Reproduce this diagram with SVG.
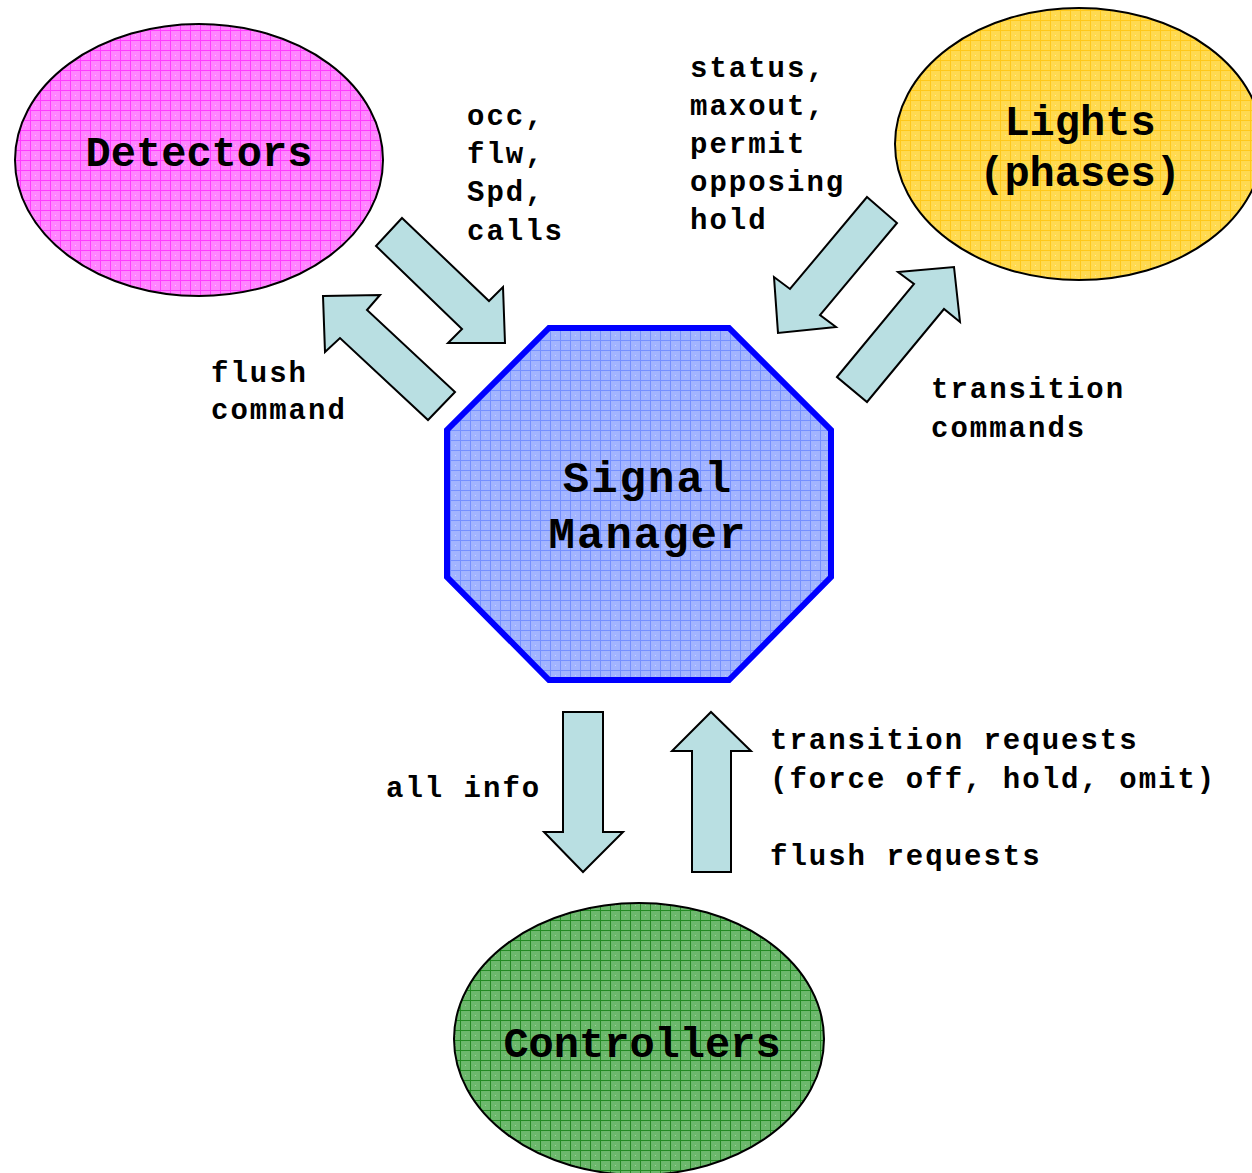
<svg xmlns="http://www.w3.org/2000/svg" width="1252" height="1173" viewBox="0 0 1252 1173">
  <defs>
    <!-- grid-textured fills for the nodes -->
    <pattern id="gridPink" width="10" height="10" patternUnits="userSpaceOnUse">
      <rect width="10" height="10" fill="#ff85ff"/>
      <path d="M0 0.5H10M0.5 0V10" stroke="#ff3cff" stroke-width="1"/>
      <rect x="5" y="5" width="1" height="1" fill="#ffc8ff"/>
    </pattern>
    <pattern id="gridYellow" width="10" height="10" patternUnits="userSpaceOnUse">
      <rect width="10" height="10" fill="#ffda50"/>
      <path d="M0 0.5H10M0.5 0V10" stroke="#ffc81a" stroke-width="1"/>
      <rect x="5" y="5" width="1" height="1" fill="#ffeca0"/>
    </pattern>
    <pattern id="gridBlue" width="10" height="10" patternUnits="userSpaceOnUse">
      <rect width="10" height="10" fill="#a2b4ff"/>
      <path d="M0 0.5H10M0.5 0V10" stroke="#7590ff" stroke-width="1"/>
      <rect x="5" y="5" width="1" height="1" fill="#c8d4ff"/>
    </pattern>
    <pattern id="gridGreen" width="10" height="10" patternUnits="userSpaceOnUse">
      <rect width="10" height="10" fill="#6cb86c"/>
      <path d="M0 0.5H10M0.5 0V10" stroke="#238a23" stroke-width="1"/>
      <rect x="5" y="5" width="1" height="1" fill="#9ed29e"/>
    </pattern>
  </defs>
  <style>
    .node { stroke: #000; stroke-width: 2; }
    .title { font-family: "Liberation Mono", "Courier New", monospace; font-weight: bold; font-size: 42px; fill: #000; text-anchor: middle; }
    .label { font-family: "Liberation Mono", "Courier New", monospace; font-weight: bold; font-size: 29px; letter-spacing: 2px; fill: #000; }
    .flow { fill: #b9dfe2; stroke: #000; stroke-width: 2; stroke-linejoin: miter; }
  </style>

  <rect width="1252" height="1173" fill="#ffffff"/>

  <!-- block arrows between the manager and its peers -->
  <g id="connectors">
    <polygon class="flow" points="402,218 489,301 503,287 505,343 448,343 462,329 376,246"/>
    <polygon class="flow" points="323,296 380,295 367,310 455,392 428,420 340,338 325,352"/>
    <polygon class="flow" points="867,197 897,223 820,315 836,327 778,333 774,277 790,289"/>
    <polygon class="flow" points="837,377 914,284 898,272 954,267 960,322 944,309 867,402"/>
    <polygon class="flow" points="563,712 603,712 603,832 623,832 583,872 544,832 563,832"/>
    <polygon class="flow" points="692,872 731,872 731,751 751,751 711,712 672,751 692,751"/>
  </g>

  <g id="detectors">
    <ellipse class="node" cx="199" cy="160" rx="184" ry="136" fill="url(#gridPink)"/>
    <text class="title" x="199" y="166">Detectors</text>
  </g>

  <g id="lights">
    <ellipse class="node" cx="1079" cy="144" rx="184" ry="136" fill="url(#gridYellow)"/>
    <text class="title" x="1080" y="135">Lights</text>
    <text class="title" x="1080" y="186">(phases)</text>
  </g>

  <g id="signal-manager">
    <polygon points="549,328 729,328 831,430 831,577 729,680 549,680 447,577 447,430" fill="url(#gridBlue)" stroke="#0000ff" stroke-width="6"/>
    <text class="title" x="648" y="492" style="font-size:44px;letter-spacing:2px">Signal</text>
    <text class="title" x="648" y="548" style="font-size:44px;letter-spacing:2px">Manager</text>
  </g>

  <g id="controllers">
    <ellipse class="node" cx="639" cy="1039" rx="185" ry="136" fill="url(#gridGreen)"/>
    <text class="title" x="642" y="1057">Controllers</text>
  </g>

  <!-- flow labels -->
  <g id="labels">
    <text class="label" x="467" y="125">occ,</text>
    <text class="label" x="467" y="163">flw,</text>
    <text class="label" x="467" y="201">Spd,</text>
    <text class="label" x="467" y="240">calls</text>

    <text class="label" x="690" y="77">status,</text>
    <text class="label" x="690" y="115">maxout,</text>
    <text class="label" x="690" y="153">permit</text>
    <text class="label" x="690" y="191">opposing</text>
    <text class="label" x="690" y="229">hold</text>

    <text class="label" x="211" y="382">flush</text>
    <text class="label" x="211" y="419">command</text>

    <text class="label" x="931" y="398">transition</text>
    <text class="label" x="931" y="437">commands</text>

    <text class="label" x="386" y="797">all info</text>

    <text class="label" x="770" y="749">transition requests</text>
    <text class="label" x="770" y="788">(force off, hold, omit)</text>
    <text class="label" x="770" y="865">flush requests</text>
  </g>
</svg>
